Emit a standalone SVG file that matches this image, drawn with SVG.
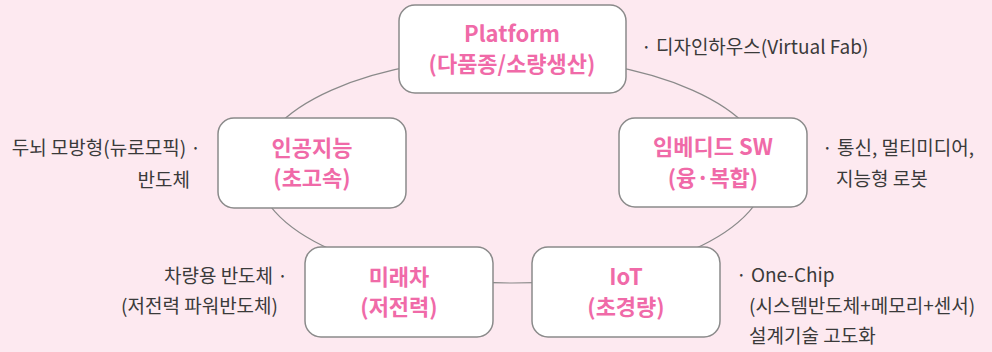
<svg xmlns="http://www.w3.org/2000/svg" width="992" height="352" viewBox="0 0 992 352">
<style>
.box{fill:#ffffff;stroke:#8a8a8a;stroke-width:1.5}
.t{font-family:"Noto Sans CJK KR","Noto Sans",sans-serif;font-weight:700;font-size:22px;fill:#f06aa8;text-anchor:middle}
.s{font-family:"Noto Sans CJK KR","Noto Sans",sans-serif;font-size:19px;fill:#3a3a3a}
.e{text-anchor:end}
</style>
<rect width="992" height="352" fill="#fde9f0"/>
<g id="connectors">
<ellipse cx="512" cy="170" rx="255" ry="113" fill="none" stroke="#8a8a8a" stroke-width="1.2"/>
</g>
<g id="platform">
<rect class="box" x="399" y="5" width="227" height="88" rx="16"/>
<text class="t" x="512" y="42">Platform</text>
<text class="t" x="512" y="72">(다품종/소량생산)</text>
</g>
<g id="embedded">
<rect class="box" x="619" y="118" width="188" height="89" rx="16"/>
<text class="t" x="713" y="155">임베디드 SW</text>
<text class="t" x="713" y="186">(융·복합)</text>
</g>
<g id="ai">
<rect class="box" x="218" y="118" width="188" height="90" rx="16"/>
<text class="t" x="312" y="156">인공지능</text>
<text class="t" x="312" y="186">(초고속)</text>
</g>
<g id="car">
<rect class="box" x="305" y="247" width="188" height="90" rx="16"/>
<text class="t" x="399" y="285">미래차</text>
<text class="t" x="399" y="315">(저전력)</text>
</g>
<g id="iot">
<rect class="box" x="532" y="247" width="188" height="90" rx="16"/>
<text class="t" x="626" y="285">IoT</text>
<text class="t" x="626" y="315">(초경량)</text>
</g>
<g id="labels">
<text class="s" x="641" y="54">· 디자인하우스(Virtual Fab)</text>
<text class="s" x="822" y="155">· 통신, 멀티미디어,</text>
<text class="s" x="836" y="186">지능형 로봇</text>
<text class="s e" x="201" y="155">두뇌 모방형(뉴로모픽) ·</text>
<text class="s e" x="190" y="187">반도체</text>
<text class="s e" x="288" y="283">차량용 반도체 ·</text>
<text class="s e" x="278" y="313">(저전력 파워반도체)</text>
<text class="s" x="736" y="282">· One-Chip</text>
<text class="s" x="749" y="313">(시스템반도체+메모리+센서)</text>
<text class="s" x="749" y="343">설계기술 고도화</text>
</g>
</svg>
